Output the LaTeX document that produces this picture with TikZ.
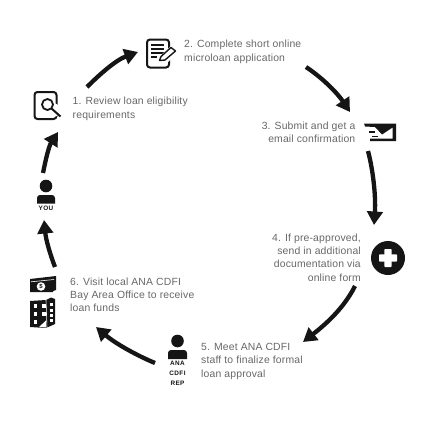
\documentclass[tikz,border=0pt]{standalone}
\usepackage{fontspec}
\setmainfont{Liberation Sans}[LetterSpace=1.6]
\usetikzlibrary{arrows.meta}
\definecolor{ink}{HTML}{151515}
\definecolor{txt}{HTML}{686868}
\tikzset{x=1pt,y=-1pt,
 flow/.style={draw=ink,line width=4.3pt,-{Triangle[length=13.5pt,width=15.5pt]}},
 lab/.style={text=txt,font=\fontsize{10.4}{13.3}\selectfont,inner sep=0pt,align=left,anchor=north west},
 labr/.style={lab,align=right,anchor=north east},
 tiny/.style={text=ink,font=\fontsize{6.4}{10}\selectfont\bfseries\addfontfeature{LetterSpace=6},inner sep=0pt,align=center},
 ico/.style={draw=ink,line width=2pt,rounded corners=3pt}}
\begin{document}
\begin{tikzpicture}
\useasboundingbox[fill=white] (0,0) rectangle (426,426);
% labels
\node[lab] (l1) at (72.5,97) {1. Review loan eligibility\\requirements};
\node[lab] (l2) at (184,40) {2. Complete short online\\microloan application};
\node[labr] (l3) at (355.5,121.5) {3. Submit and get a\\email confirmation};
\node[labr] (l4) at (361,233.5) {4. If pre-approved,\\send in additional\\documentation via\\online form};
\node[lab] (l5) at (201,343) {5. Meet ANA CDFI\\staff to finalize formal\\loan approval};
\node[lab] (l6) at (70,277.5) {6. Visit local ANA CDFI\\Bay Area Office to receive\\loan funds};
% anchors for the connectors
\coordinate (you) at (43,173);
\coordinate (mag) at (58,132);
\coordinate (magout) at (87,87);
\coordinate (form) at (138,52);
\coordinate (formout) at (306,67);
\coordinate (env) at (350,112);
\coordinate (envout) at (368,151);
\coordinate (plus) at (374,225);
\coordinate (plusout) at (355,286);
\coordinate (rep) at (303,342);
\coordinate (repout) at (155,363);
\coordinate (off) at (96,327);
\coordinate (offout) at (55,267);
\coordinate (youin) at (44,220);
% connectors
\draw[flow] (you) .. controls (46,158) and (49,146) .. (mag);
\draw[flow] (magout) .. controls (100,74) and (116,60) .. (form);
\draw[flow] (formout) .. controls (324,79) and (338,94) .. (env);
\draw[flow] (envout) .. controls (373,170) and (376,196) .. (plus);
\draw[flow] (plusout) .. controls (344,308) and (326,324) .. (rep);
\draw[flow] (repout) .. controls (138,356) and (116,344) .. (off);
\draw[flow] (offout) .. controls (50,254) and (46,240) .. (youin);
% magnifier page
\draw[ico] (34.5,92) rectangle (56.5,119);
\fill[white] (53,110) circle (7pt);
\draw[ink,line width=1.8pt] (47.5,104.5) circle (5.5pt);
\draw[ink,line width=2pt] (51.5,108.5) -- (60.5,116.5);
% form
\draw[ico] (147,39.5) rectangle (169,67.5);
\foreach \y in {45,49,53} \draw[ink,line width=1.6pt] (151,\y) -- (164,\y);
\draw[ink,line width=1.6pt] (151,57) -- (157,57);
\fill[white] (157,59) -- (172,45) -- (179,51) -- (165,65) -- cycle;
\draw[ink,line width=1.4pt,line join=round] (161,56.5) -- (171,47.5) -- (175.5,51) -- (165,60) -- (159.5,60.5) -- cycle;
% envelope
\fill[ink] (364,123.5) -- (396,123.5) -- (396,141) -- (370,141) -- (370,138.5) -- (392.5,138.5) -- (392.5,127.5) -- (382,134.5) -- (375,127) -- (365,126.5) -- cycle;
\fill[ink] (369,131) rectangle (375,132.8);
\fill[ink] (372,135.5) rectangle (378,137.2);
% plus disc
\fill[ink] (388,258) circle (17pt);
\fill[white,rounded corners=.8pt] (384.3,249) rectangle (391.7,267);
\fill[white,rounded corners=.8pt] (379,254.3) rectangle (397,261.7);
% you
\fill[ink] (46,186) circle (6.3pt);
\fill[ink] (37,203.5) -- (37,198) arc[start angle=180,end angle=90,radius=3pt] -- (52,195) arc[start angle=90,end angle=0,radius=3pt] -- (55,203.5) -- cycle;
\node[tiny] (youlab) at (46,208.5) {YOU};
% rep
\fill[ink] (177.5,341) circle (6.3pt);
\fill[ink] (168,359) -- (168,353) arc[start angle=180,end angle=90,radius=3pt] -- (184,350) arc[start angle=90,end angle=0,radius=3pt] -- (187,359) -- cycle;
\node[tiny] (replab) at (177.5,373) {ANA\\[0pt]CDFI\\[0pt]REP};
% money
\fill[ink] (30,279) -- (56,276) -- (56,290) -- (53,291) -- (53,292) -- (30,292) -- cycle;
\draw[white,line width=.6pt] (31,281.8) -- (54,279.5);
\fill[ink] (30,282.5) rectangle (53,292);
\fill[white] (41,286.5) circle (4.3pt);
\node[inner sep=0pt,font=\fontsize{6}{6}\selectfont\bfseries,text=ink] (dollar) at (41,286.5) {\$};
% building
\fill[ink] (30,301) -- (46,300) -- (51,297.5) -- (55,299) -- (55,324) -- (46,328) -- (30,327) -- cycle;
\draw[white,line width=.6pt] (46,300) -- (47,328);
\foreach \x in {33.5,42} \foreach \y in {304,312} \fill[white] (\x,\y) rectangle ++(3.6,4);
\fill[white] (33.5,320) rectangle ++(3.6,4);
\fill[white] (39,327) -- (46,320.5) -- (46,327.5) -- cycle;
\foreach \y in {303,308.5,314,319} \fill[white] (49.5,\y) rectangle ++(3.6,3);
\end{tikzpicture}
\end{document}
